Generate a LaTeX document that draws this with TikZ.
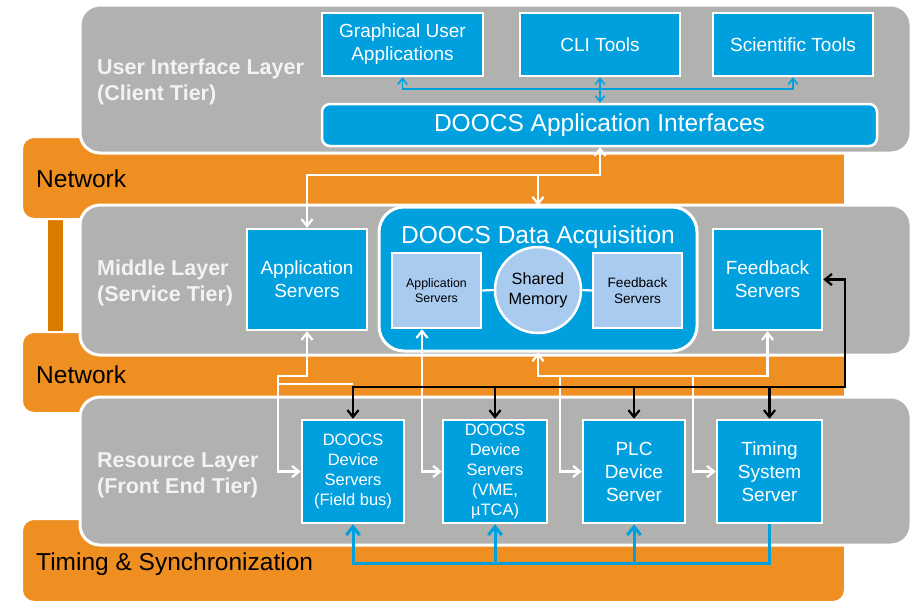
\documentclass[tikz,border=0pt]{standalone}
\usepackage{fontspec}
\setmainfont{Liberation Sans}
\usetikzlibrary{arrows.meta}

\definecolor{layergray}{RGB}{177,177,175}
\definecolor{netorange}{RGB}{239,143,34}
\definecolor{stemorange}{RGB}{217,124,0}
\definecolor{doocsblue}{RGB}{0,160,223}
\definecolor{paleblue}{RGB}{169,203,240}
\definecolor{labelgray}{RGB}{243,243,243}

\tikzset{
  barb/.tip={Straight Barb[length=3pt 1.8, width=5pt 2.8]},
  band/.style={fill=netorange, draw=white, line width=2pt, rounded corners=12pt},
  layer/.style={fill=layergray, draw=white, line width=3pt, rounded corners=20pt},
  layertext/.style={anchor=base west, align=left, inner sep=0pt, text=labelgray,
    font=\fontsize{21.5}{26}\selectfont\bfseries},
  bandtext/.style={anchor=base west, inner sep=0pt, font=\fontsize{24.5}{28}\selectfont},
  bluebox/.style={fill=doocsblue, draw=white, line width=2.5pt, text=white,
    align=center, inner sep=0pt, font=\fontsize{19}{23}\selectfont},
  palebox/.style={fill=paleblue, draw=white, line width=2.5pt, text=black,
    align=center, inner sep=0pt},
  wire/.style={draw=white, line width=2.2pt},
  uiwire/.style={draw=doocsblue, line width=1.6pt},
  bus/.style={draw=black, line width=2.2pt},
  sync/.style={draw=doocsblue, line width=3pt},
}

\begin{document}
\begin{tikzpicture}[x=1pt, y=-1pt]
  \path[fill=white] (0,0) rectangle (915,603);
  \useasboundingbox (0,0) rectangle (915,603);

  % orange network and timing bands
  \draw[fill=stemorange, draw=white, line width=2pt] (47,210) rectangle (64,340);
  \draw[band] (22,137) rectangle (845,219);
  \draw[band] (22,332) rectangle (845,413);
  \draw[band] (22,519) rectangle (845,602);
  \node[bandtext] (net1) at (36,187) {Network};
  \node[bandtext] (net2) at (36,383) {Network};
  \node[bandtext] (sync) at (36,570) {Timing \& Synchronization};

  % gray layers
  \draw[layer] (80,5) rectangle (911,153);
  \draw[layer] (80,205) rectangle (911,355);
  \draw[layer] (80,397) rectangle (911,545);
  \node[layertext] (uilabel) at (97,100) {User Interface Layer\\(Client Tier)};
  \node[layertext] (midlabel) at (97,301) {Middle Layer\\(Service Tier)};
  \node[layertext] (reslabel) at (97,493) {Resource Layer\\(Front End Tier)};

  % bus levels
  \coordinate (uibus) at (0,89);
  \coordinate (netA) at (0,175);
  \coordinate (netB) at (0,376);
  \coordinate (netW) at (0,384);
  \coordinate (netC) at (0,387);
  \coordinate (syncbus) at (0,563);
  \coordinate (leftA) at (278,0);
  \coordinate (midA) at (560,0);
  \coordinate (midB) at (693,0);
  \coordinate (rightA) at (845,0);

  % client tier
  \node[bluebox, minimum width=161pt, minimum height=63pt] (gua) at (402.5,44.5) {Graphical User\\Applications};
  \node[bluebox, minimum width=160pt, minimum height=63pt] (cli) at (600,44.5) {CLI Tools};
  \node[bluebox, minimum width=160pt, minimum height=63pt] (sci) at (793,44.5) {Scientific Tools};
  \node[bluebox, rounded corners=8pt, minimum width=555pt, minimum height=42pt,
    font=\fontsize{24.5}{28}\selectfont] (dai) at (599.5,125) {DOOCS Application Interfaces};

  % service tier
  \node[bluebox, minimum width=120pt, minimum height=101pt] (appsrv) at (307,279.5) {Application\\Servers};
  \node[bluebox, rounded corners=25pt, line width=3pt, minimum width=318pt, minimum height=144pt] (daq) at (538,279) {};
  \node[text=white, inner sep=0pt, font=\fontsize{24.5}{28}\selectfont] (daqtitle) at (538,237) {DOOCS Data Acquisition};
  \node[palebox, minimum width=89pt, minimum height=75pt, font=\fontsize{12.4}{15.5}\selectfont] (dapp) at (436.5,290.5) {Application\\Servers};
  \node[palebox, circle, minimum size=86pt, font=\fontsize{16.3}{20}\selectfont] (shm) at (538,290) {Shared\\Memory};
  \node[palebox, minimum width=89pt, minimum height=75pt, font=\fontsize{13.6}{16}\selectfont] (dfb) at (637.5,290.5) {Feedback\\Servers};
  \node[bluebox, minimum width=109pt, minimum height=101pt] (fbsrv) at (767.5,279.5) {Feedback\\Servers};
  \draw[wire] (dapp.east) -- (shm.west);
  \draw[wire] (shm.east) -- (dfb.west);

  % front end tier
  \node[bluebox, minimum width=102pt, minimum height=103pt, font=\fontsize{16.5}{20}\selectfont] (fld) at (353,471.5) {DOOCS\\Device\\Servers\\(Field bus)};
  \node[bluebox, minimum width=104pt, minimum height=103pt, font=\fontsize{16.5}{20}\selectfont] (vme) at (495,471.5) {DOOCS\\Device\\Servers\\(VME,\\µTCA)};
  \node[bluebox, minimum width=102pt, minimum height=103pt] (plc) at (634,471.5) {PLC\\Device\\Server};
  \node[bluebox, minimum width=105pt, minimum height=103pt] (tim) at (769.5,471.5) {Timing\\System\\Server};

  % client tier links
  \draw[uiwire, barb-barb] (gua.south) |- (uibus -| sci) -- (sci.south);
  \draw[uiwire, barb-barb] (cli.south) -- (cli |- dai.north);

  % network links
  \draw[wire, barb-barb] (cli |- dai.south) |- (netA -| appsrv) -- (appsrv.north);
  \draw[wire, -barb] (netA -| daq.north) -- (daq.north);
  \draw[wire, barb-barb] (appsrv.south) |- (netB -| leftA) |- (fld.west);
  \draw[wire] (netW -| leftA) -- (netW -| fld.north);
  \draw[wire, barb-barb] ([xshift=-14.5pt]dapp.south) |- (vme.west);
  \draw[wire, barb-barb] (daq.south) |- (netB -| fbsrv) -- (fbsrv.south);
  \draw[wire, -barb] (netB -| midA) |- (plc.west);
  \draw[wire, -barb] (netB -| midB) |- (tim.west);

  % feedback bus
  \draw[bus, barb-barb] (fld.north) |- (netC -| rightA) |- (fbsrv.east);
  \foreach \srv in {vme,plc,tim}
    \draw[bus, -barb] (netC -| \srv.north) -- (\srv.north);

  % timing distribution
  \draw[sync, -barb] (tim.south) |- (syncbus -| fld) -- (fld.south);
  \foreach \srv in {vme,plc}
    \draw[sync, -barb] (syncbus -| \srv.south) -- (\srv.south);
\end{tikzpicture}
\end{document}
